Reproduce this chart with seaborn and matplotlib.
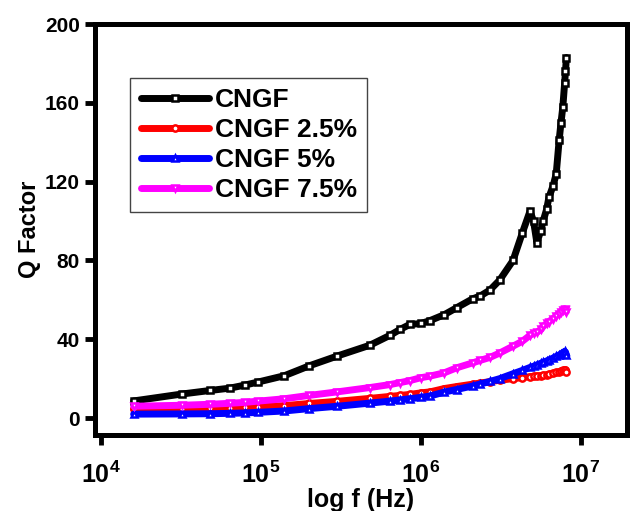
import matplotlib
matplotlib.use("Agg")
import matplotlib.pyplot as plt
import seaborn as sns
import numpy as np
from matplotlib.ticker import FixedLocator, NullLocator

# ---- data ----
freq = [1.6e4, 3.2e4, 4.8e4, 6.4e4, 8.0e4, 9.6e4, 1.4e5, 2.0e5, 3.0e5, 4.8e5,
        6.4e5, 7.4e5, 8.5e5, 1.0e6, 1.14e6, 1.4e6, 1.67e6, 2.1e6, 2.35e6, 2.7e6,
        3.1e6, 3.76e6, 4.3e6, 4.8e6, 5.05e6, 5.3e6, 5.6e6, 5.8e6, 6.1e6, 6.3e6,
        6.7e6, 7.0e6, 7.3e6, 7.5e6, 7.7e6, 7.9e6, 8.0e6, 8.1e6]

q_cngf = [8.7, 12.2, 14.0, 15.2, 16.8, 18.3, 21.5, 26.5, 31.5, 37.0,
          42.0, 45.0, 47.5, 48.0, 49.5, 52.5, 56.0, 60.5, 62.0, 65.0,
          70.0, 80.0, 94.0, 105.0, 100.0, 89.0, 95.0, 100.0, 106.0, 112.0,
          118.0, 124.0, 141.0, 150.0, 158.0, 170.0, 176.0, 183.0]

q_25 = [4.6, 4.8, 5.0, 5.2, 5.4, 5.7, 6.3, 7.4, 8.5, 10.0,
        11.0, 11.5, 12.0, 12.8, 13.3, 15.0, 16.0, 17.2, 17.8, 18.5,
        19.2, 20.0, 20.5, 21.0, 21.2, 21.4, 21.6, 21.8, 22.0, 22.3,
        22.8, 23.2, 23.5, 24.0, 24.2, 24.4, 24.2, 23.5]

q_5 = [2.0, 2.1, 2.2, 2.4, 2.6, 2.9, 3.6, 4.8, 6.0, 7.6,
       8.6, 9.2, 9.8, 10.5, 11.2, 13.2, 14.5, 16.3, 17.3, 18.6,
       20.0, 22.5, 24.2, 25.7, 26.3, 27.0, 27.8, 28.3, 29.0, 29.5,
       30.5, 31.3, 32.0, 32.6, 33.2, 33.8, 33.5, 32.0]

q_75 = [6.0, 6.5, 7.0, 7.5, 8.0, 8.6, 9.8, 11.5, 13.3, 15.5,
        17.0, 18.0, 19.0, 20.5, 21.3, 23.0, 25.5, 28.0, 29.3, 30.8,
        33.0, 36.5, 39.0, 42.0, 43.0, 43.5, 45.0, 46.5, 48.0, 49.0,
        50.5, 52.0, 53.0, 54.0, 55.0, 55.5, 55.0, 54.0]

labels = ["CNGF", "CNGF 2.5%", "CNGF 5%", "CNGF 7.5%"]
colors = ["black", "#ff0000", "#0000ff", "#ff00ff"]
markers = ["s", "o", "^", "v"]
series = [q_cngf, q_25, q_5, q_75]

x_ticks = [1e4, 1e5, 1e6, 1e7]
y_ticks = [0, 40, 80, 120, 160, 200]

# ---- style ----
sns.set_theme(style="white")
plt.rcParams['font.family'] = ['Liberation Sans', 'DejaVu Sans']
plt.rcParams['font.weight'] = 'bold'
plt.rcParams['text.color'] = 'black'
plt.rcParams['axes.labelcolor'] = 'black'
plt.rcParams['xtick.color'] = 'black'
plt.rcParams['ytick.color'] = 'black'
plt.rcParams['mathtext.fontset'] = 'custom'
plt.rcParams['mathtext.rm'] = 'Liberation Sans:bold'
plt.rcParams['mathtext.bf'] = 'Liberation Sans:bold'
plt.rcParams['mathtext.default'] = 'bf'

fig = plt.figure(figsize=(6.32, 5.11), dpi=100)
ax = fig.add_axes([0.1503, 0.1487, 0.8418, 0.8043])
ax.set_xscale("log")

for vals, lab, col, mk in zip(series, labels, colors, markers):
    sns.lineplot(x=freq, y=vals, ax=ax, color=col, label=lab, lw=5,
                 marker=mk, markersize=4.5, markerfacecolor="white",
                 markeredgecolor=col, markeredgewidth=1.8, sort=False)

ax.set_xlim(10**3.9625, 10**7.2875)
ax.set_ylim(-8.6, 200)

ax.xaxis.set_major_locator(FixedLocator(x_ticks))
ax.xaxis.set_minor_locator(NullLocator())
ax.set_yticks(y_ticks)
ax.set_yticklabels([str(v) for v in y_ticks], fontsize=15, fontweight='bold',
                   color='black')
ax.set_xticklabels([r"$\mathbf{10^{%d}}$" % int(np.log10(v)) for v in x_ticks],
                   fontsize=18, color='black')

ax.tick_params(axis='both', which='major', direction='out', length=7, width=3.5,
               color='black', bottom=True, left=True, top=False, right=False, pad=4)
ax.tick_params(axis='x', pad=12)

for sp in ax.spines.values():
    sp.set_visible(True)
    sp.set_color('black')
    sp.set_linewidth(3.6)

ax.set_xlabel("log f (Hz)", fontsize=18, fontweight='bold', labelpad=0, color='black')
ax.set_ylabel("Q Factor", fontsize=17, fontweight='bold', labelpad=3, color='black')

leg = ax.legend(loc="upper left", bbox_to_anchor=(0.066, 0.869), frameon=True,
                fancybox=False, edgecolor="#444444", framealpha=1,
                prop={'weight': 'bold', 'size': 19}, handlelength=2.6,
                handletextpad=0.2, borderpad=0.4, labelspacing=0.22,
                borderaxespad=0)
leg.get_frame().set_linewidth(1.0)
for h in leg.get_lines():
    h.set_linewidth(5)
for t in leg.get_texts():
    t.set_color('black')

fig.savefig("out.png", dpi=100)
